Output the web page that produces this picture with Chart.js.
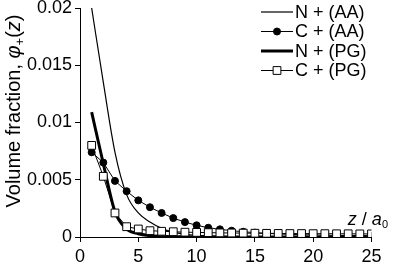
<!DOCTYPE html>
<html>
<head>
<meta charset="utf-8">
<script src="https://cdn.jsdelivr.net/npm/chart.js@4.4.1/dist/chart.umd.min.js"></script>
<style>
  html, body { margin: 0; padding: 0; background: #fff; }
  canvas { display: block; }
</style>
</head>
<body>
<canvas id="chart" width="395" height="267"></canvas>
<script>
'use strict';

// ***** DATA *****
const zValues = [1, 2, 3, 4, 5, 6, 7, 8, 9, 10, 11, 12, 13, 14, 15, 16, 17, 18, 19, 20, 21, 22, 23, 24, 25];

const nPlusAA = [0.0200, 0.0135, 0.0074, 0.0037, 0.0021, 0.0013, 0.00075, 0.00042, 0.00024, 0.00014,
  0.00009, 0.00006, 0.00004, 0.00003, 0.00002, 0.00002, 0.00001, 0.00001, 0.00001, 0.00001,
  0.00001, 0.00001, 0.00001, 0.00001, 0.00001];

const cPlusAA = [0.0074, 0.0065, 0.0049, 0.0040, 0.0032, 0.0026, 0.0021, 0.00165, 0.0013, 0.00102,
  0.00081, 0.00067, 0.00055, 0.00046, 0.00038, 0.00032, 0.00027, 0.00023, 0.0002, 0.00018,
  0.00016, 0.00014, 0.00013, 0.00012, 0.00011];

const nPlusPG = [0.0109, 0.0064, 0.0022, 0.0007, 0.00028, 0.00012, 0.00006, 0.00003, 0.00002, 0.00001,
  0.00001, 0.00001, 0.00001, 0.00001, 0.00001, 0.00001, 0.00001, 0.00001, 0.00001, 0.00001,
  0.00001, 0.00001, 0.00001, 0.00001, 0.00001];

const cPlusPG = [0.0080, 0.0053, 0.0021, 0.0009, 0.0007, 0.00055, 0.0005, 0.00046, 0.00042, 0.0004,
  0.00038, 0.00036, 0.00035, 0.00034, 0.00033, 0.00032, 0.00031, 0.0003, 0.0003, 0.00029,
  0.00029, 0.00028, 0.00028, 0.00027, 0.00027];

const seriesLabels = ['N + (AA)', 'C + (AA)', 'N + (PG)', 'C + (PG)'];
const xTickValues = [0, 5, 10, 15, 20, 25];
const yTickValues = [0, 0.005, 0.01, 0.015, 0.02];

// ***** HELPERS *****
const FONT = '"Liberation Sans", Arial, sans-serif';

function toPoints(values) {
  return values.map((v, i) => ({ x: zValues[i], y: v }));
}

// draws a list of text runs, each with its own font / vertical shift
function drawRuns(ctx, runs, x, y, align) {
  let total = 0;
  for (const r of runs) {
    ctx.font = r.font;
    total += ctx.measureText(r.text).width;
  }
  let cx = align === 'center' ? x - total / 2 : (align === 'right' ? x - total : x);
  for (const r of runs) {
    ctx.font = r.font;
    ctx.fillText(r.text, cx, y + (r.dy || 0));
    cx += ctx.measureText(r.text).width;
  }
}

// ***** PLUGINS *****
const axisTitles = {
  id: 'axisTitles',
  afterDraw(chart) {
    const ctx = chart.ctx;
    ctx.save();
    ctx.fillStyle = '#000';
    ctx.textBaseline = 'alphabetic';

    // y title, rotated
    ctx.translate(20, 111);
    ctx.rotate(-Math.PI / 2);
    drawRuns(ctx, [
      { text: 'Volume fraction, ', font: '20px ' + FONT },
      { text: '\u03C6', font: 'italic 20px ' + FONT },
      { text: '+', font: '13px ' + FONT, dy: 4 },
      { text: '(', font: '20px ' + FONT },
      { text: 'z', font: 'italic 20px ' + FONT },
      { text: ')', font: '20px ' + FONT }
    ], 0, 0, 'center');
    ctx.restore();

    // x title, above the axis at the right
    ctx.save();
    ctx.fillStyle = '#000';
    ctx.textBaseline = 'alphabetic';
    drawRuns(ctx, [
      { text: 'z', font: 'italic 18px ' + FONT },
      { text: ' / ', font: '18px ' + FONT },
      { text: 'a', font: 'italic 18px ' + FONT },
      { text: '0', font: '11px ' + FONT, dy: 3 }
    ], 388, 225, 'right');
    ctx.restore();
  }
};

const excelLegend = {
  id: 'excelLegend',
  afterDraw(chart) {
    const ctx = chart.ctx;
    const rows = [12, 31.5, 51, 70.5];
    ctx.save();
    chart.data.datasets.forEach((ds, i) => {
      const y = rows[i];
      ctx.strokeStyle = '#000';
      ctx.lineWidth = ds.borderWidth;
      ctx.beginPath();
      ctx.moveTo(261, y);
      ctx.lineTo(293, y);
      ctx.stroke();
      if (ds.pointRadius > 0) {
        ctx.fillStyle = ds.pointBackgroundColor;
        ctx.strokeStyle = '#000';
        ctx.lineWidth = 1;
        ctx.beginPath();
        if (ds.pointStyle === 'rect') {
          const s = Math.SQRT1_2 * ds.pointRadius;
          ctx.rect(277 - s, y - s, 2 * s, 2 * s);
        } else {
          ctx.arc(277, y, ds.pointRadius, 0, Math.PI * 2);
        }
        ctx.fill();
        ctx.stroke();
      }
      ctx.fillStyle = '#000';
      ctx.font = '18px ' + FONT;
      ctx.textBaseline = 'middle';
      ctx.textAlign = 'left';
      ctx.fillText(ds.label, 295, y + 1);
    });
    ctx.restore();
  }
};

// ***** CHART *****
const ctx = document.getElementById('chart').getContext('2d');

const myChart = new Chart(ctx, { //eslint-disable-line
  type: 'line',
  data: {
    datasets: [
      {
        label: seriesLabels[0],
        data: toPoints(nPlusAA),
        borderColor: '#000',
        borderWidth: 1.2,
        pointRadius: 0,
        cubicInterpolationMode: 'monotone',
        order: 4
      },
      {
        label: seriesLabels[1],
        data: toPoints(cPlusAA),
        borderColor: '#000',
        borderWidth: 1,
        pointStyle: 'circle',
        pointRadius: 3.5,
        pointBackgroundColor: '#000',
        pointBorderColor: '#000',
        pointBorderWidth: 1,
        order: 3
      },
      {
        label: seriesLabels[2],
        data: toPoints(nPlusPG),
        borderColor: '#000',
        borderWidth: 3,
        pointRadius: 0,
        cubicInterpolationMode: 'monotone',
        order: 2
      },
      {
        label: seriesLabels[3],
        data: toPoints(cPlusPG),
        borderColor: '#000',
        borderWidth: 1,
        pointStyle: 'rect',
        pointRadius: 5.5,
        pointBackgroundColor: '#fff',
        pointBorderColor: '#000',
        pointBorderWidth: 1,
        order: 1
      }
    ]
  },
  options: {
    responsive: false,
    animation: false,
    events: [],
    layout: { padding: { top: 8, right: 23.5, left: 0, bottom: 0 } },
    plugins: {
      legend: { display: false },
      tooltip: { enabled: false }
    },
    scales: {
      x: {
        type: 'linear',
        min: 0,
        max: 25,
        afterBuildTicks: (scale) => { scale.ticks = xTickValues.map(v => ({ value: v })); },
        afterFit: (scale) => { scale.height = 30; scale.paddingLeft = 0; scale.paddingRight = 0; },
        grid: { drawOnChartArea: false, drawTicks: true, tickLength: 5, color: '#000' },
        border: { display: true, color: '#000', width: 1 },
        ticks: { color: '#000', font: { family: FONT, size: 18 }, padding: 4, maxRotation: 0 }
      },
      y: {
        min: 0,
        max: 0.02,
        afterBuildTicks: (scale) => { scale.ticks = yTickValues.map(v => ({ value: v })); },
        afterFit: (scale) => { scale.width = 80; scale.paddingTop = 0; scale.paddingBottom = 0; },
        grid: { drawOnChartArea: false, drawTicks: true, tickLength: 5, color: '#000' },
        border: { display: true, color: '#000', width: 1 },
        ticks: {
          color: '#000',
          font: { family: FONT, size: 18 },
          padding: 3,
          callback: (v) => String(v)
        }
      }
    }
  },
  plugins: [axisTitles, excelLegend]
});
</script>
</body>
</html>
